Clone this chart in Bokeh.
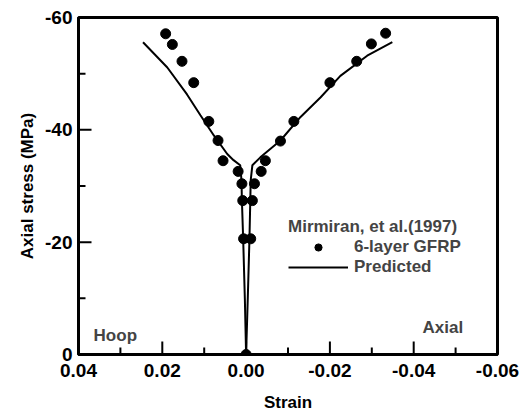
import math
from bokeh.plotting import figure
from bokeh.models import Range1d, FixedTicker, Legend, LegendItem, Label
from bokeh.embed import file_html
from bokeh.resources import INLINE

# ---- data ----
x_ticks = [0.04, 0.02, 0.0, -0.02, -0.04, -0.06]
x_tick_labels = ["0.04", "0.02", "0.00", "-0.02", "-0.04", "-0.06"]
x_minor = [0.03, 0.01, -0.01, -0.03, -0.05]
y_ticks = [0, -20, -40, -60]
y_tick_labels = ["0", "-20", "-40", "-60"]
y_minor = [-10, -30, -50]

# experimental (Mirmiran et al. 1997, 6-layer GFRP)
hoop_strain = [0.0192, 0.0176, 0.0153, 0.0125, 0.0089, 0.0067, 0.0055, 0.0019, 0.0010, 0.0008, 0.0006, 0.0]
hoop_stress = [-57.1, -55.2, -52.2, -48.4, -41.5, -38.1, -34.5, -32.6, -30.4, -27.4, -20.6, 0.0]
axial_strain = [-0.0333, -0.0299, -0.0264, -0.0200, -0.0114, -0.0082, -0.0046, -0.0036, -0.0020, -0.0015, -0.0011]
axial_stress = [-57.2, -55.3, -52.2, -48.4, -41.5, -38.0, -34.5, -32.6, -30.4, -27.4, -20.6]

# predicted
hoop_pred_strain = [0.0, 0.0003, 0.0007, 0.0010, 0.0011, 0.0014, 0.0030, 0.0045, 0.0077, 0.0109, 0.0141, 0.0188, 0.0246]
hoop_pred_stress = [0.0, -10.0, -20.6, -27.4, -31.0, -33.7, -34.6, -35.7, -39.0, -42.6, -46.3, -51.1, -55.6]
axial_pred_strain = [0.0, -0.0004, -0.0008, -0.0010, -0.0011, -0.0015, -0.0034, -0.0082, -0.0130, -0.0178, -0.0225, -0.0289, -0.0349]
axial_pred_stress = [0.0, -10.0, -20.6, -27.4, -31.0, -33.7, -35.1, -38.1, -42.3, -45.8, -49.6, -53.2, -55.6]

FONT = "Liberation Sans"
X0, X1 = 0.04, -0.06
Y0, Y1 = 0, -60
FW, FH = 419, 337

p = figure(frame_width=FW, frame_height=FH,
           x_range=Range1d(X0, X1), y_range=Range1d(Y0, Y1),
           output_backend="svg", toolbar_location=None,
           min_border_left=78, min_border_right=31,
           min_border_top=17, min_border_bottom=60,
           background_fill_color="white", border_fill_color="white")

p.xgrid.visible = False
p.ygrid.visible = False
p.outline_line_color = "black"
p.outline_line_width = 3
p.outline_line_alpha = 1.0

# axes
p.xaxis.ticker = FixedTicker(ticks=x_ticks, minor_ticks=x_minor)
p.xaxis.major_label_overrides = {t: l for t, l in zip(x_ticks, x_tick_labels)}
p.yaxis.ticker = FixedTicker(ticks=y_ticks, minor_ticks=y_minor)
p.yaxis.major_label_overrides = {t: l for t, l in zip(y_ticks, y_tick_labels)}

for ax in (p.xaxis, p.yaxis):
    ax.axis_line_width = 3
    ax.axis_line_color = "black"
    ax.major_tick_in = 0
    ax.major_tick_out = 0
    ax.minor_tick_in = 0
    ax.minor_tick_out = 0
    ax.major_label_text_font = FONT
    ax.major_label_text_font_style = "bold"
    ax.major_label_text_font_size = "19px"
    ax.major_label_text_color = "black"
    ax.axis_label_text_font = FONT
    ax.axis_label_text_font_style = "bold"
    ax.axis_label_text_font_size = "17px"
    ax.axis_label_text_color = "black"

p.xaxis.axis_label = "Strain"
p.yaxis.axis_label = "Axial stress (MPa)"
p.xaxis.major_label_standoff = 9
p.xaxis.axis_label_standoff = 13
p.yaxis.major_label_standoff = 6
p.yaxis.axis_label_standoff = 5

# inward ticks drawn as thin rectangles (screen-sized), centred half a tick length inside
ypx = (Y1 - Y0) / FH
xpx = (X1 - X0) / FW
maj, mnr = 13, 7
p.rect(x_ticks, [Y0 + maj / 2 * ypx] * len(x_ticks), width=2, height=maj,
       width_units="screen", height_units="screen",
       fill_color="black", line_color=None)
p.rect(x_minor, [Y0 + mnr / 2 * ypx] * len(x_minor), width=2, height=mnr,
       width_units="screen", height_units="screen",
       fill_color="black", line_color=None)
p.rect([X0 + maj / 2 * xpx] * len(y_ticks), y_ticks, width=maj, height=2,
       width_units="screen", height_units="screen",
       fill_color="black", line_color=None)
p.rect([X0 + mnr / 2 * xpx] * len(y_minor), y_minor, width=mnr, height=2,
       width_units="screen", height_units="screen",
       fill_color="black", line_color=None)

# predicted lines
l1 = p.line(hoop_pred_strain, hoop_pred_stress, line_color="black", line_width=2)
p.line(axial_pred_strain, axial_pred_stress, line_color="black", line_width=2)

# experimental points
c1 = p.scatter(hoop_strain, hoop_stress, marker="circle", size=10,
               fill_color="black", line_color="black")
p.scatter(axial_strain, axial_stress, marker="circle", size=10,
          fill_color="black", line_color="black")

legend = Legend(items=[LegendItem(label="6-layer GFRP", renderers=[c1]),
                       LegendItem(label="Predicted", renderers=[l1])],
                title="Mirmiran, et al.(1997)",
                location=(210, 77))
legend.border_line_color = None
legend.background_fill_alpha = 0
legend.padding = 0
legend.margin = 0
legend.spacing = 0
legend.glyph_width = 60
legend.glyph_height = 18
legend.label_height = 18
legend.label_standoff = 6
legend.title_standoff = 0
legend.title_text_font = FONT
legend.title_text_font_style = "bold"
legend.title_text_font_size = "17px"
legend.label_text_font = FONT
legend.label_text_font_style = "bold"
legend.label_text_font_size = "17px"
p.add_layout(legend, "center")

p.add_layout(Label(x=0.0364, y=-3.4, text="Hoop", text_align="left", text_baseline="middle",
                   text_font=FONT, text_font_style="bold", text_font_size="17px"))
p.add_layout(Label(x=-0.0421, y=-4.8, text="Axial", text_align="left", text_baseline="middle",
                   text_font=FONT, text_font_style="bold", text_font_size="17px"))

open("out.html", "w").write(file_html(p, INLINE))
